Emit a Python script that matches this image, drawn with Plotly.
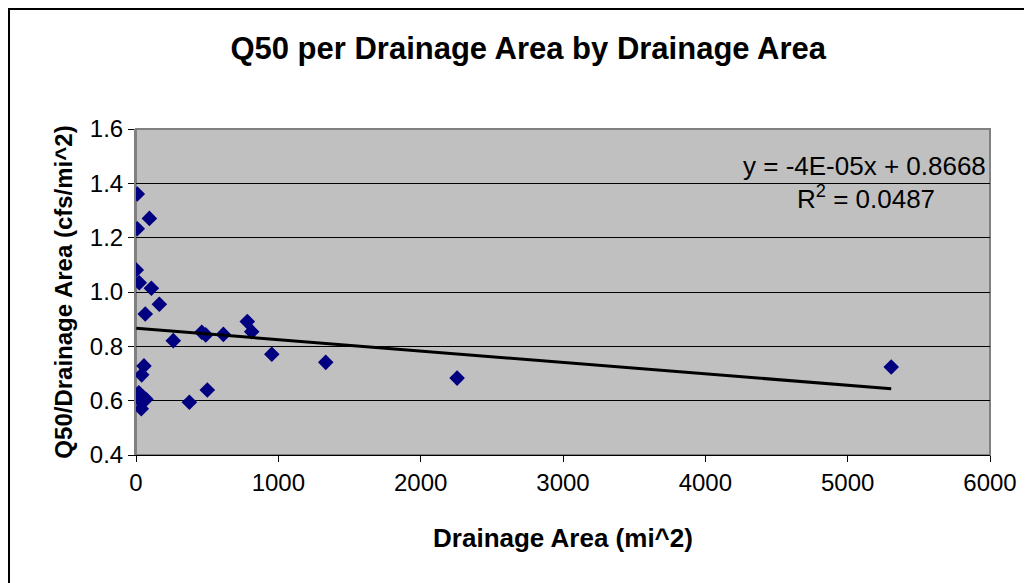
import numpy as np
import plotly.graph_objects as go

NAVY = "#000080"
PLOT_GRAY = "#C0C0C0"
FONT = "Arial, Liberation Sans, sans-serif"

# drainage area (mi^2) and Q50 per drainage area (cfs/mi^2)
area = [9, 94, 9, 2, 23, 108, 164, 65, 262, 462, 490, 614, 782, 813, 954,
        56, 40, 20, 50, 30, 37, 375, 501, 1333, 2256, 5306, 70]
q50_per_area = [1.361, 1.271, 1.233, 1.081, 1.034, 1.014, 0.955, 0.919, 0.821,
                0.852, 0.842, 0.844, 0.891, 0.854, 0.771, 0.728, 0.695, 0.629,
                0.612, 0.600, 0.570, 0.594, 0.639, 0.741, 0.683, 0.724, 0.605]

# Excel linear trendline as labelled on the chart
slope = -4.2e-05
intercept = 0.8668
eq_text = "y = -4E-05x + 0.8668"
r2_text = "R<sup>2</sup> = 0.0487"

line_x = np.array([min(area), max(area)])
line_y = slope * line_x + intercept

fig = go.Figure()
fig.add_trace(go.Scatter(
    x=area, y=q50_per_area, mode="markers",
    marker={"symbol": "diamond", "size": 12, "color": NAVY},
    showlegend=False,
))
fig.add_trace(go.Scatter(
    x=line_x, y=line_y, mode="lines",
    line={"color": "black", "width": 3},
    showlegend=False,
))

# page body adds an 8px margin, so the figure is 8px smaller than the window
fig.update_layout(
    width=1024, height=575,
    paper_bgcolor="white",
    plot_bgcolor=PLOT_GRAY,
    font={"family": FONT, "color": "black", "size": 24},
    margin={"l": 128, "r": 42, "t": 121, "b": 128},
    title={"text": "<b>Q50 per Drainage Area by Drainage Area</b>",
           "x": 0.508, "xanchor": "center", "y": 0.931, "yanchor": "middle",
           "font": {"size": 31, "family": FONT}},
    shapes=[
        {"type": "rect", "xref": "paper", "yref": "paper",
         "x0": -0.1487, "x1": 1.06, "y0": -0.40, "y1": 1.368,
         "line": {"color": "black", "width": 2}, "layer": "below"},
        {"type": "rect", "xref": "paper", "yref": "paper",
         "x0": 0, "x1": 1, "y0": 0, "y1": 1,
         "line": {"color": "#808080", "width": 2}, "layer": "below"},
    ],
    annotations=[
        {"text": eq_text, "xref": "paper", "yref": "paper",
         "x": 0.998, "y": 0.885, "xanchor": "right", "yanchor": "middle",
         "showarrow": False, "font": {"size": 26}},
        {"text": r2_text, "xref": "paper", "yref": "paper",
         "x": 0.938, "y": 0.79, "xanchor": "right", "yanchor": "middle",
         "showarrow": False, "font": {"size": 26}},
    ],
)
fig.update_xaxes(
    range=[0, 6000], dtick=1000, showgrid=False, zeroline=False,
    ticks="outside", ticklen=6, tickcolor="black",
    showline=True, linecolor="black", linewidth=1,
    title={"text": "<b>Drainage Area (mi^2)</b>", "standoff": 34, "font": {"size": 26}},
    tickfont={"size": 24},
)
fig.update_yaxes(
    range=[0.4, 1.6], dtick=0.2, tickformat=".1f",
    showgrid=True, gridcolor="black", gridwidth=1, zeroline=False,
    ticks="outside", ticklen=6, tickcolor="black",
    showline=True, linecolor="#808080", linewidth=2,
    title={"text": "<b>Q50/Drainage Area (cfs/mi^2)</b>", "standoff": 10, "font": {"size": 24}},
    tickfont={"size": 24},
)

fig.write_html("out.html")
